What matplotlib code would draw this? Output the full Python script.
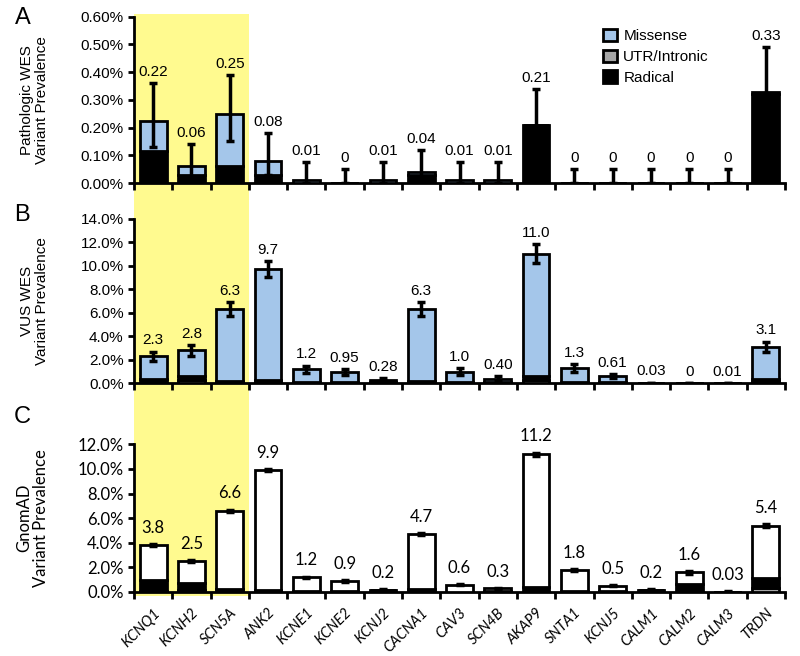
import numpy as np
import matplotlib.pyplot as plt
from matplotlib.patches import Rectangle, Patch
from matplotlib.ticker import FuncFormatter, MultipleLocator

# DATA
genes = ["KCNQ1", "KCNH2", "SCN5A", "ANK2", "KCNE1", "KCNE2", "KCNJ2", "CACNA1",
         "CAV3", "SCN4B", "AKAP9", "SNTA1", "KCNJ5", "CALM1", "CALM2", "CALM3", "TRDN"]

# panel A - pathologic WES (%)
a_utr = [0] * 17
a_radical = [0.115, 0.03, 0.06, 0.03, 0, 0, 0, 0.03, 0, 0, 0.21, 0, 0, 0, 0, 0, 0.32]
a_missense = [0.11, 0.03, 0.19, 0.05, 0.01, 0, 0.01, 0.01, 0.01, 0.01, 0, 0, 0, 0, 0, 0, 0.01]
a_ci_low = [0.13, 0.02, 0.15, 0.03, 0, 0, 0, 0.01, 0, 0, 0.11, 0, 0, 0, 0, 0, 0.18]
a_ci_high = [0.36, 0.14, 0.39, 0.18, 0.075, 0.05, 0.075, 0.12, 0.075, 0.075, 0.34,
             0.05, 0.05, 0.05, 0.05, 0.05, 0.49]
a_labels = ["0.22", "0.06", "0.25", "0.08", "0.01", "0", "0.01", "0.04", "0.01", "0.01",
            "0.21", "0", "0", "0", "0", "0", "0.33"]

# panel B - VUS WES (%)
b_utr = [0.05, 0.3, 0.05, 0.05, 0.02, 0.02, 0.02, 0.05, 0.02, 0.02, 0.3, 0.02, 0.02, 0, 0, 0, 0.1]
b_radical = [0.35, 0.35, 0.15, 0.2, 0.05, 0.05, 0.05, 0.15, 0.05, 0.05, 0.3, 0.1, 0.05, 0.01, 0, 0, 0.25]
b_missense = [1.9, 2.15, 6.1, 9.45, 1.13, 0.88, 0.21, 6.1, 0.93, 0.33, 10.4, 1.18, 0.54,
              0.02, 0, 0.01, 2.75]
b_err = [0.4, 0.45, 0.6, 0.7, 0.3, 0.25, 0.15, 0.6, 0.3, 0.2, 0.8, 0.35, 0.2, 0.03, 0, 0.02, 0.45]
b_labels = ["2.3", "2.8", "6.3", "9.7", "1.2", "0.95", "0.28", "6.3", "1.0", "0.40",
            "11.0", "1.3", "0.61", "0.03", "0", "0.01", "3.1"]

# panel C - gnomAD (%)
c_utr = [0.05, 0.15, 0.02, 0.02, 0.01, 0.01, 0.01, 0.02, 0.01, 0.01, 0.03, 0.01, 0.01,
         0.01, 0.02, 0, 0.35]
c_radical = [0.95, 0.55, 0.25, 0.1, 0.05, 0.05, 0.15, 0.25, 0.02, 0.05, 0.35, 0.05, 0.03,
             0.15, 0.6, 0.02, 0.8]
c_missense = [2.8, 1.8, 6.33, 9.78, 1.14, 0.84, 0.04, 4.43, 0.57, 0.24, 10.82, 1.74, 0.46,
              0.04, 0.98, 0.01, 4.25]
c_err = [0.1, 0.08, 0.1, 0.1, 0.05, 0.05, 0.02, 0.1, 0.04, 0.03, 0.12, 0.07, 0.04, 0.02,
         0.1, 0.01, 0.1]
c_labels = ["3.8", "2.5", "6.6", "9.9", "1.2", "0.9", "0.2", "4.7", "0.6", "0.3", "11.2",
            "1.8", "0.5", "0.2", "1.6", "0.03", "5.4"]

# SETTINGS
BLUE = "#a4c6ea"
GRAY = "#a6a6a6"
YELLOW = "#fffa8f"
ARIAL = "Liberation Sans"
CALIBRI = "Lato"

plt.rcParams["font.family"] = ARIAL
fig = plt.figure(figsize=(8, 6.56), dpi=100)

x = np.arange(len(genes))


def draw_panel(rect, utr, radical, missense, lo, hi, labels, ymax, step, fmt,
               ylabel, letter, letter_y, miss_color, font, lab_off, lab_size):
    ax = fig.add_axes(rect)
    ax.set_facecolor("none")
    ax.set_zorder(1)
    utr = np.array(utr)
    radical = np.array(radical)
    missense = np.array(missense)
    kw = dict(width=0.7, edgecolor="black", linewidth=2, zorder=3)
    ax.bar(x, utr, color=GRAY, **kw)
    ax.bar(x, radical, bottom=utr, color="black", **kw)
    total = utr + radical + missense
    ax.bar(x, missense, bottom=utr + radical, color=miss_color, **kw)
    lo = np.array(lo)
    hi = np.array(hi)
    ax.errorbar(x, total, yerr=[total - lo, hi - total], fmt="none", ecolor="black",
                elinewidth=2.5, capsize=3, capthick=2.5, zorder=4)
    for xi, top, lab in zip(x, hi, labels):
        ax.annotate(lab, (xi, top), xytext=(0, lab_off), textcoords="offset points",
                    ha="center", va="bottom", fontsize=lab_size, family=font)
    ax.set_xlim(-0.5, 16.5)
    ax.set_ylim(0, ymax)
    ax.yaxis.set_major_locator(MultipleLocator(step))
    ax.yaxis.set_major_formatter(FuncFormatter(lambda v, p: fmt.format(v)))
    for s in ["top", "right"]:
        ax.spines[s].set_visible(False)
    for s in ["left", "bottom"]:
        ax.spines[s].set_linewidth(2)
    ax.set_xticks(x)
    ax.set_xticks(np.arange(-0.5, 17, 1), minor=True)
    ax.tick_params(axis="x", which="major", length=0)
    ax.tick_params(axis="x", which="minor", length=5, width=2, direction="out")
    ax.tick_params(axis="y", length=4, width=2, labelsize=lab_size)
    for t in ax.get_yticklabels():
        t.set_family(font)
    ax.set_ylabel(ylabel, fontsize=lab_size, family=font, linespacing=1.1)
    ax.yaxis.set_label_coords(-0.13, 0.5)
    fig.text(0.028, letter_y, letter, fontsize=17, va="center", ha="center")
    return ax


ax_a = draw_panel([0.1675, 0.721, 0.81375, 0.2535], a_utr, a_radical, a_missense,
                  a_ci_low, a_ci_high, a_labels, 0.6, 0.1, "{:.2f}%",
                  "Pathologic WES\nVariant Prevalence", "A", 0.973, BLUE, ARIAL, 3, 11)
ax_a.set_xticklabels([])
ax_a.legend(handles=[Patch(facecolor=BLUE, edgecolor="black", linewidth=2, label="Missense"),
                     Patch(facecolor=GRAY, edgecolor="black", linewidth=2, label="UTR/Intronic"),
                     Patch(facecolor="black", edgecolor="black", linewidth=2, label="Radical")],
            loc="upper left", bbox_to_anchor=(0.70, 1.01), frameon=False, fontsize=11,
            handlelength=0.9, handleheight=0.9, handletextpad=0.4, labelspacing=0.4)

b_total = np.array(b_utr) + np.array(b_radical) + np.array(b_missense)
ax_b = draw_panel([0.1675, 0.4157, 0.81375, 0.2512], b_utr, b_radical, b_missense,
                  b_total - np.array(b_err), b_total + np.array(b_err), b_labels,
                  14, 2, "{:.1f}%", "VUS WES\nVariant Prevalence", "B", 0.672, BLUE, ARIAL, 3, 11)
ax_b.set_xticklabels([])

c_total = np.array(c_utr) + np.array(c_radical) + np.array(c_missense)
ax_c = draw_panel([0.1675, 0.0976, 0.81375, 0.225], c_utr, c_radical, c_missense,
                  c_total - np.array(c_err), c_total + np.array(c_err), c_labels,
                  12, 2, "{:.1f}%", "GnomAD\nVariant Prevalence", "C", 0.365, "white", CALIBRI, 6, 12)
ax_c.set_xticklabels(genes, rotation=45, ha="right", rotation_mode="anchor",
                     fontstyle="italic", fontsize=10.5, family=CALIBRI)
ax_c.tick_params(axis="x", which="major", pad=10)

# yellow highlight behind the first three genes, spanning all panels
fig.canvas.draw()
inv = fig.transFigure.inverted()
x0 = inv.transform(ax_a.transData.transform((-0.5, 0)))[0]
x1 = inv.transform(ax_a.transData.transform((2.5, 0)))[0]
fig.patches.append(Rectangle((x0, 0.0915), x1 - x0, 0.9787 - 0.0915,
                             transform=fig.transFigure, facecolor=YELLOW,
                             edgecolor="none", zorder=-1))

plt.savefig("out.png", dpi=100)
